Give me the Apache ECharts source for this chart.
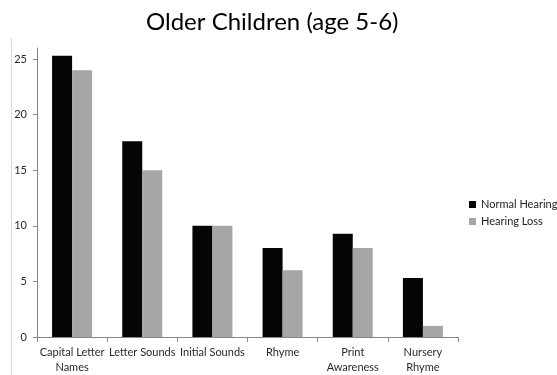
<!DOCTYPE html>
<html>
<head>
<meta charset="utf-8">
<script src="https://cdn.jsdelivr.net/npm/echarts@6/dist/echarts.min.js"></script>
<style>
  html, body { margin: 0; padding: 0; background: #fff; }
  #chart { width: 557px; height: 375px; }
</style>
</head>
<body>
<div id="chart"></div>
<script>
// Skill categories (x axis)
const categories = ['Capital Letter\nNames', 'Letter Sounds', 'Initial Sounds', 'Rhyme', 'Print\nAwareness', 'Nursery\nRhyme'];
// Mean scores per group
const normalHearing = [25.3, 17.6, 10, 8, 9.3, 5.3];
const hearingLoss = [24, 15, 10, 6, 8, 1];
// Value axis tick labels
const yTicks = [0, 5, 10, 15, 20, 25];

const fontFamily = 'Lato, "Open Sans", sans-serif';
const chart = echarts.init(document.getElementById('chart'));

chart.setOption({
  animation: false,
  textStyle: { fontFamily: fontFamily },
  title: {
    text: 'Older Children (age 5-6)',
    left: 141,
    top: 5,
    textStyle: { fontFamily: fontFamily, fontSize: 24, fontWeight: 'normal', color: '#000' }
  },
  legend: {
    orient: 'vertical',
    left: 464,
    top: 194,
    itemWidth: 7,
    itemHeight: 7,
    itemGap: 6,
    icon: 'rect',
    textStyle: { fontFamily: fontFamily, fontSize: 11, color: '#222', lineHeight: 11 },
    data: ['Normal Hearing', 'Hearing Loss']
  },
  graphic: [{
    type: 'line',
    shape: { x1: 11.5, y1: 38, x2: 11.5, y2: 375 },
    style: { stroke: '#d9d9d9', lineWidth: 1 }
  }],
  grid: { left: 37, right: 99, top: 48, bottom: 35 },
  xAxis: {
    type: 'category',
    data: categories,
    axisLine: { lineStyle: { color: '#868686' } },
    axisTick: { show: true, length: 5, lineStyle: { color: '#868686' } },
    axisLabel: { color: '#2a2a2a', fontSize: 11, lineHeight: 15, margin: 8, interval: 0, fontFamily: fontFamily }
  },
  yAxis: {
    type: 'value',
    min: 0,
    max: 26,
    interval: 5,
    splitLine: { show: false },
    axisLine: { show: true, lineStyle: { color: '#868686' } },
    axisTick: { show: true, length: 4, lineStyle: { color: '#868686' }, customValues: yTicks },
    axisLabel: { color: '#2a2a2a', fontSize: 11, margin: 10, fontFamily: fontFamily, customValues: yTicks }
  },
  series: [
    {
      name: 'Normal Hearing',
      type: 'bar',
      data: normalHearing,
      barWidth: 20,
      barGap: '0%',
      itemStyle: { color: '#050505' }
    },
    {
      name: 'Hearing Loss',
      type: 'bar',
      data: hearingLoss,
      barWidth: 20,
      itemStyle: { color: '#a6a6a6' }
    }
  ]
});
</script>
</body>
</html>
